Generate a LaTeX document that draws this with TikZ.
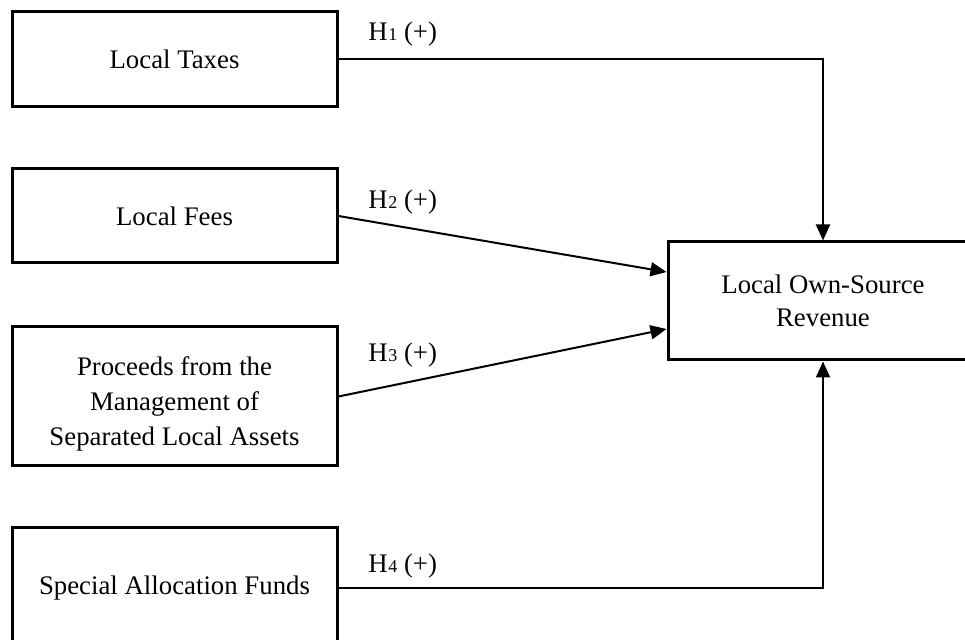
\documentclass[tikz,border=0pt]{standalone}
\usepackage{fontspec}
\setmainfont{Liberation Serif}
\usetikzlibrary{arrows.meta}
\newcommand{\hsub}[1]{H\kern0.3pt{\fontsize{9}{9}\selectfont #1}}
\begin{document}
\begin{tikzpicture}[x=0.5pt,y=-0.5pt,
  box/.style={draw,line width=1.5pt,minimum width=162.5pt,align=center,
    inner sep=0pt,font=\fontsize{13.4}{16.5}\selectfont},
  txt/.style={align=center,inner sep=0pt,font=\fontsize{13.4}{17.5}\selectfont},
  conn/.style={line width=1pt,-{Triangle[length=8pt,width=7pt]}},
  hlab/.style={anchor=west,inner sep=0pt,font=\fontsize{13.4}{16.5}\selectfont}]
\useasboundingbox (0,0) rectangle (965,640);
\node[box,minimum height=47.5pt] (b1) at (174.5,59) {Local Taxes};
\node[box,minimum height=47pt] (b2) at (174.5,216) {Local Fees};
\node[box,minimum height=69.5pt] (b3) at (174.5,396.5) {};
\node[txt] (b3t) at (174.5,403.5) {Proceeds from the\\Management of\\Separated Local Assets};
\node[box,minimum height=60pt] (b4) at (174.5,588) {Special Allocation Funds};
\node[box,minimum width=155pt,minimum height=59pt] (out) at (823,301) {Local Own-Source\\Revenue};
\draw[conn] (b1.east) -| (out.north);
\draw[conn] (b2.east) -- ([yshift=14.5pt]out.west);
\draw[conn] (b3.east) -- ([yshift=-14pt]out.west);
\draw[conn] (b4.east) -| (out.south);
\node[hlab] (l1) at (368,34) {\hsub{1} (+)};
\node[hlab] (l2) at (368,202) {\hsub{2} (+)};
\node[hlab] (l3) at (368,355) {\hsub{3} (+)};
\node[hlab] (l4) at (368,566) {\hsub{4} (+)};
\end{tikzpicture}
\end{document}
